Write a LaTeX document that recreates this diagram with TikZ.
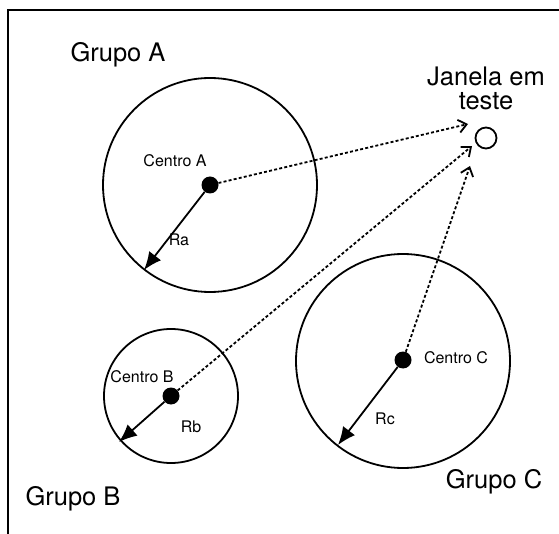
\documentclass[tikz,border=0pt]{standalone}
\usepackage{fontspec}
\setmainfont{TeX Gyre Heros}
\usetikzlibrary{arrows.meta}
\begin{document}
\begin{tikzpicture}[x=1pt,y=-1pt,
  ring/.style={draw,line width=1.8pt},
  centre/.style={circle,fill=black,inner sep=0pt,minimum size=17pt},
  radius arrow/.style={line width=1.8pt,-{Latex[length=18pt,width=15pt]}},
  probe/.style={dash pattern=on 3pt off 2.2pt,line width=1.8pt,-{Straight Barb[length=8pt,width=13pt,line width=1.8pt]}},
  big/.style={font=\fontsize{25.5}{28}\selectfont},
  small/.style={font=\fontsize{16}{18}\selectfont}]
\useasboundingbox (0,0) rectangle (559,534);
% frame: top and left edges only
\draw[line width=2pt] (8,534) -- (8,10) -- (559,10);
% the three groups
\node[ring,circle,minimum size=214pt,inner sep=0pt] (ga) at (210,185) {};
\node[ring,circle,minimum size=134pt,inner sep=0pt] (gb) at (171,396) {};
\node[ring,circle,minimum size=214pt,inner sep=0pt] (gc) at (403,361) {};
% centres
\node[centre] (ca) at (210,185) {};
\node[centre] (cb) at (171,396) {};
\node[centre] (cc) at (403,360) {};
% window under test
\node[draw,circle,line width=1.8pt,minimum size=21pt,inner sep=0pt] (win) at (486,138) {};
% radii
\coordinate (ea) at (144,270);
\coordinate (eb) at (119,442);
\coordinate (ec) at (338,445);
\draw[radius arrow] (ca) -- (ea);
\draw[radius arrow] (cb) -- (eb);
\draw[radius arrow] (cc) -- (ec);
% distances to the window
\coordinate (ta) at (468,124);
\coordinate (tb) at (472,146);
\coordinate (tc) at (470,166);
\draw[probe] (ca) -- (ta);
\draw[probe] (cb) -- (tb);
\draw[probe] (cc) -- (tc);
% labels
\node[big] (la) at (118,55) {Grupo A};
\node[big] (lb) at (73,499) {Grupo B};
\node[big] (lc) at (494,482) {Grupo C};
\node[big,align=center] (lw) at (486,88) {Janela em\\[-4pt]teste};
\node[small] (na) at (175,161) {Centro A};
\node[small] (nb) at (142,377) {Centro B};
\node[small] (nc) at (456,358) {Centro C};
\node[small] (ra) at (179,240) {Ra};
\node[small] (rb) at (191,427) {Rb};
\node[small] (rc) at (385,419) {Rc};
\end{tikzpicture}
\end{document}
